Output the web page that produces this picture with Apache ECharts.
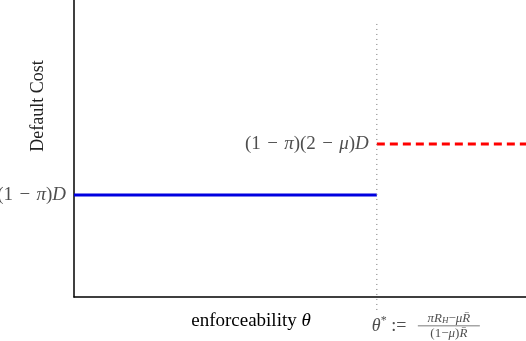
<!DOCTYPE html>
<html><head><meta charset="utf-8">
<script src="https://cdn.jsdelivr.net/npm/echarts@6/dist/echarts.min.js"></script>
<style>html,body{margin:0;padding:0;background:#fff}#c{width:526px;height:341px}</style>
</head><body><div id="c"></div>
<script>
// data
const xRange = [0, 1];
const yRange = [0, 2.91];
const threshold = 0.67;
const lowCost = 1.0;   // (1-π)D
const highCost = 1.5;  // (1-π)(2-μ)D
const dotLineY = [-0.127, 2.714];
const lowLabel = '{n|(1\u2004−\u2004}{i|π}{n|)}{i|D}';
const highLabel = '{n|(1\u2004−\u2004}{i|π}{n|)(2\u2004−\u2004}{i|μ}{n|)}{i|D}';

const chart = echarts.init(document.getElementById('c'), null, {renderer: 'canvas'});
const serif = '"Liberation Serif","DejaVu Serif",serif';
const rich = {
  n: {fontFamily: serif, fontSize: 19, color: '#222'},
  i: {fontFamily: serif, fontSize: 19, fontStyle: 'italic', color: '#222'},
  sup: {fontFamily: serif, fontSize: 12, color: '#222', padding: [0, 0, 10, 0]}
};
const thetaRich = {
  n: {fontFamily: serif, fontSize: 18, color: '#222'},
  i: {fontFamily: serif, fontSize: 18, fontStyle: 'italic', color: '#222'},
  sup: {fontFamily: serif, fontSize: 12, color: '#222', padding: [0, 0, 10, 0]}
};
const fracRich = {
  a: {fontFamily: serif, fontSize: 13, fontStyle: 'italic', color: '#222', lineHeight: 12},
  c: {fontFamily: serif, fontSize: 13, color: '#222', lineHeight: 12},
  s: {fontFamily: serif, fontSize: 9, fontStyle: 'italic', color: '#222', lineHeight: 12, padding: [5, 0, 0, 0]},
  bar: {width: 62, height: 0.8, backgroundColor: '#222', lineHeight: 3}
};
chart.setOption({
  animation: false,
  grid: {left: 74, right: 0, top: 0, bottom: 44},
  xAxis: {type: 'value', min: xRange[0], max: xRange[1],
    axisLine: {lineStyle: {color: '#000', width: 1.5}}, axisTick: {show: false},
    axisLabel: {show: false}, splitLine: {show: false}},
  yAxis: {type: 'value', min: yRange[0], max: yRange[1],
    axisLine: {show: true, lineStyle: {color: '#000', width: 1.5}}, axisTick: {show: false},
    axisLabel: {show: false}, splitLine: {show: false}},
  series: [
    {type: 'line', data: [[xRange[0], lowCost], [threshold, lowCost]], symbol: 'none',
     lineStyle: {color: '#0000e0', width: 3}},
    {type: 'line', data: [[threshold, highCost], [xRange[1], highCost]], symbol: 'none',
     lineStyle: {color: '#ff0000', width: 3, type: [8, 5]}},
    {type: 'line', data: [[threshold, dotLineY[0]], [threshold, dotLineY[1]]], symbol: 'none', clip: false,
     lineStyle: {color: '#777', width: 1, type: [1, 4]}},
    {type: 'scatter', symbolSize: 0, clip: false, silent: true,
     data: [
       {value: [xRange[0], lowCost], label: {show: true, position: 'left', distance: 8,
         formatter: lowLabel, rich: rich}},
       {value: [threshold, highCost], label: {show: true, position: 'left', distance: 8,
         formatter: highLabel, rich: rich}},
       {value: [threshold, dotLineY[0]], label: {show: true, position: 'right', distance: -5, offset: [0, 16],
         formatter: '{i|θ}{sup|*}{n| :=}', rich: thetaRich}},
       {value: [threshold, dotLineY[0]], label: {show: true, position: 'right', distance: 72, offset: [0, 16],
         align: 'center',
         formatter: '{a|πR}{s|H}{c|−}{a|μR̄}\n{bar|}\n{c|(1−}{a|μ}{c|)}{a|R̄}', rich: fracRich}}
     ]}
  ],
  graphic: [
    {type: 'text', x: 38, y: 106, rotation: Math.PI / 2,
     style: {text: 'Default Cost', font: '18px ' + serif, fill: '#222', align: 'center', verticalAlign: 'middle'}},
    {type: 'text', x: 251, y: 321,
     style: {text: '{n|enforceability }{i|θ}', rich: {
       n: {fontFamily: serif, fontSize: 19, color: '#222'},
       i: {fontFamily: serif, fontSize: 19, fontStyle: 'italic', color: '#222'}},
       align: 'center', verticalAlign: 'middle'}}
  ]
});
</script></body></html>
